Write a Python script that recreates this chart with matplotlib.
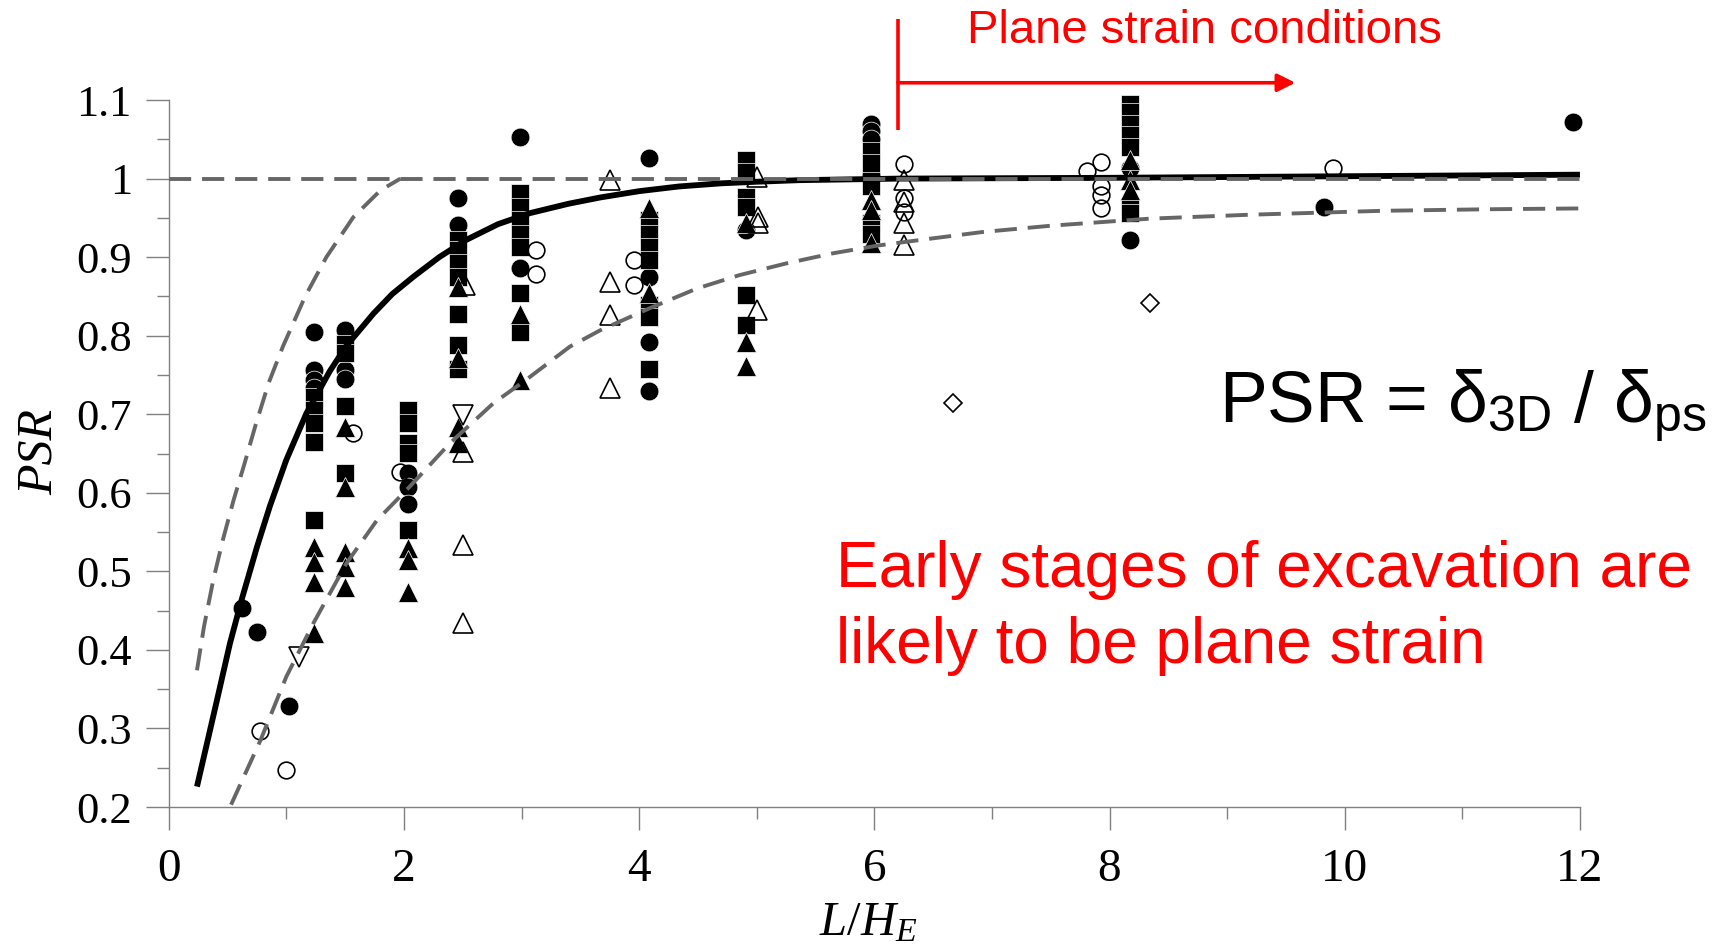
import matplotlib.pyplot as plt
from matplotlib.ticker import MultipleLocator, FuncFormatter

plt.rcParams['font.family'] = ['Liberation Serif', 'DejaVu Serif']
plt.rcParams['mathtext.fontset'] = 'custom'
plt.rcParams['mathtext.it'] = 'Liberation Serif:italic'
plt.rcParams['mathtext.rm'] = 'Liberation Serif'

# ---- field data ----
filled_circle_x = [0.62, 0.75, 1.02, 1.235, 1.235, 1.235, 1.235, 1.5, 1.5, 1.5,
                   2.036, 2.036, 2.036, 2.46, 2.46, 2.985, 2.985,
                   4.083, 4.083, 4.083, 4.083, 4.91, 5.97, 5.97, 5.97, 5.97,
                   8.17, 8.17, 9.82, 11.94]
filled_circle_y = [0.453, 0.423, 0.328, 0.805, 0.756, 0.744, 0.733, 0.807, 0.756, 0.745,
                   0.625, 0.608, 0.586, 0.975, 0.941, 1.053, 0.886,
                   1.026, 0.875, 0.792, 0.729, 0.935, 1.07, 1.06, 1.05, 1.005,
                   1.013, 0.922, 0.964, 1.072]

filled_square_x = [1.235] * 5 + [1.5] * 4 + [2.036] * 5 + [2.46] * 7 + [2.985] * 7 + \
                  [4.083] * 7 + [4.91] * 6 + [5.97] * 5 + [8.17] * 7
filled_square_y = [0.722, 0.705, 0.689, 0.665, 0.565,
                   0.79, 0.778, 0.71, 0.625,
                   0.705, 0.689, 0.663, 0.651, 0.553,
                   0.922, 0.909, 0.892, 0.875, 0.828, 0.788, 0.758,
                   0.982, 0.964, 0.947, 0.93, 0.913, 0.854, 0.805,
                   0.947, 0.93, 0.913, 0.896, 0.839, 0.824, 0.758,
                   1.024, 1.009, 0.977, 0.964, 0.852, 0.814,
                   1.035, 1.02, 0.99, 0.943, 0.93,
                   1.095, 1.085, 1.07, 1.055, 1.04, 0.964, 0.956]

filled_tri_x = [1.235] * 4 + [1.5] * 5 + [2.036] * 3 + [2.46] * 4 + [2.985] * 2 + \
               [4.083] * 2 + [4.91] * 3 + [5.97] * 3 + [8.17] * 3
filled_tri_y = [0.531, 0.512, 0.487, 0.421,
                0.684, 0.608, 0.525, 0.506, 0.480,
                0.530, 0.514, 0.474,
                0.862, 0.771, 0.684, 0.663,
                0.828, 0.744,
                0.962, 0.854,
                0.943, 0.792, 0.761,
                0.973, 0.96, 0.918,
                1.024, 0.998, 0.985]

open_circle_x = [0.78, 0.997, 1.563, 1.965, 3.127, 3.127, 3.96, 3.96,
                 6.25, 6.25, 6.25, 7.93, 7.81, 7.93, 7.93, 7.93, 9.9]
open_circle_y = [0.297, 0.247, 0.676, 0.626, 0.909, 0.879, 0.896, 0.865,
                 1.019, 0.975, 0.958, 1.021, 1.01, 0.99, 0.979, 0.962, 1.013]

open_tri_x = [2.52, 2.5, 2.5, 2.5, 3.75, 3.75, 3.75, 3.75,
              5.0, 5.01, 5.01, 5.0, 6.25, 6.25, 6.25, 6.25]
open_tri_y = [0.865, 0.652, 0.534, 0.434, 0.998, 0.869, 0.826, 0.733,
              1.002, 0.951, 0.943, 0.833, 0.998, 0.97, 0.943, 0.915]

open_tri_down_x = [1.11, 2.5]
open_tri_down_y = [0.391, 0.699]

open_diamond_x = [6.67, 8.34]
open_diamond_y = [0.714, 0.842]

# ---- trend / bound curves ----
mean_x = [0.24, 0.41, 0.52, 0.62, 0.75, 0.86, 1.0, 1.17, 1.37, 1.51, 1.74, 1.9,
          2.08, 2.3, 2.53, 2.8, 3.07, 3.4, 3.67, 4.0, 4.34, 4.7, 5.0, 5.36, 6.21,
          8.0, 10.0, 12.0]
mean_y = [0.226, 0.336, 0.408, 0.464, 0.531, 0.583, 0.642, 0.701, 0.755, 0.787, 0.828, 0.853,
          0.875, 0.90, 0.922, 0.942, 0.956, 0.968, 0.976, 0.984, 0.99, 0.994, 0.996, 0.998, 1.0,
          1.001, 1.003, 1.005]

upper_x = [0.24, 0.30, 0.38, 0.46, 0.55, 0.64, 0.74, 0.85, 0.97, 1.16, 1.34, 1.57, 1.8, 1.97]
upper_y = [0.374, 0.43, 0.49, 0.54, 0.59, 0.635, 0.687, 0.74, 0.786, 0.85, 0.90, 0.951, 0.985, 1.0]

unity_x = [0, 12]
unity_y = [1.0, 1.0]

lower_x = [0.53, 0.78, 1.0, 1.23, 1.51, 1.77, 2.05, 2.39, 2.76, 3.04, 3.41, 3.67, 4.09,
           4.49, 4.85, 5.25, 5.65, 6.04, 6.5, 6.92, 7.5, 8.34, 9.19, 10.32, 11.23, 12.0]
lower_y = [0.203, 0.285, 0.366, 0.434, 0.51, 0.565, 0.608, 0.663, 0.714, 0.744, 0.786,
           0.807, 0.835, 0.86, 0.877, 0.892, 0.905, 0.915, 0.924, 0.932, 0.940, 0.949,
           0.954, 0.959, 0.961, 0.962]

ps_start = 6.2
ps_end = 9.58

fig = plt.figure(figsize=(17.29, 9.51), dpi=100)
ax = fig.add_axes([0.0976, 0.1514, 0.8162, 0.7434])

mk = dict(ls='none', clip_on=False, zorder=3)
ax.plot(filled_circle_x, filled_circle_y, marker='o', ms=13.5, mfc='k', mec='w', mew=0.5, **mk)
ax.plot(filled_square_x, filled_square_y, marker='s', ms=13, mfc='k', mec='w', mew=0.5, **mk)
ax.plot(filled_tri_x, filled_tri_y, marker='^', ms=15, mfc='k', mec='w', mew=0.5, **mk)
ax.plot(open_circle_x, open_circle_y, marker='o', ms=12, mfc='none', mec='k', mew=1.2, **mk)
ax.plot(open_tri_x, open_tri_y, marker='^', ms=14, mfc='none', mec='k', mew=1.2, **mk)
ax.plot(open_tri_down_x, open_tri_down_y, marker='v', ms=14, mfc='none', mec='k', mew=1.2, **mk)
ax.plot(open_diamond_x, open_diamond_y, marker='D', ms=9, mfc='none', mec='k', mew=1.2, **mk)

dash = (0, (5.7, 2.8))
ax.plot(mean_x, mean_y, color='k', lw=4.2, zorder=4, solid_capstyle='butt')
ax.plot(unity_x, unity_y, color='#666666', lw=2.8, ls=dash, zorder=5)
ax.plot(upper_x, upper_y, color='#666666', lw=2.8, ls=dash, zorder=5)
ax.plot(lower_x, lower_y, color='#666666', lw=2.8, ls=dash, zorder=5)

ax.set_xlim(0, 12)
ax.set_ylim(0.2, 1.1)
for s in ['top', 'right']:
    ax.spines[s].set_visible(False)
for s in ['left', 'bottom']:
    ax.spines[s].set_color('#808080')
    ax.spines[s].set_linewidth(1.0)

ax.xaxis.set_major_locator(MultipleLocator(2))
ax.xaxis.set_minor_locator(MultipleLocator(1))
ax.yaxis.set_major_locator(MultipleLocator(0.1))
ax.yaxis.set_minor_locator(MultipleLocator(0.05))
ax.yaxis.set_major_formatter(FuncFormatter(lambda v, _: '%g' % round(v, 2)))
ax.tick_params(which='major', direction='out', length=16.6, width=1.0, color='#808080')
ax.tick_params(which='minor', direction='out', length=8.4, width=1.0, color='#808080')
ax.tick_params(axis='x', which='major', labelsize=34, pad=13)
ax.tick_params(axis='y', which='major', labelsize=32, pad=10)

fig.text(0.502, 0.0168, r'$L/H_E$', fontsize=35, ha='center', va='baseline')
fig.text(0.023, 0.5247, 'PSR', fontsize=36, style='italic', rotation=90,
         ha='center', va='center')

# plane strain bracket + arrow
red = '#ff0000'
ax.plot([ps_start, ps_start], [1.0618, 1.203], color=red, lw=2.6, clip_on=False,
        solid_capstyle='butt')
ax.annotate('', xy=(ps_end, 1.122), xytext=(ps_start, 1.122), annotation_clip=False,
            arrowprops=dict(arrowstyle='-|>,head_length=0.54,head_width=0.27',
                            mutation_scale=20, color=red, lw=2.6,
                            shrinkA=0, shrinkB=0))

sans = 'Liberation Sans'
fig.text(0.5593, 0.9551, 'Plane strain conditions', color=red, fontsize=34,
         family=sans, ha='left', va='baseline')
fig.text(0.7053, 0.5566, r'PSR = δ$_{\mathregular{3D}}$ / δ$_{\mathregular{ps}}$',
         fontsize=51.5, family=sans, ha='left', va='baseline')
fig.text(0.4838, 0.3831, 'Early stages of excavation are', color=red, fontsize=46,
         family=sans, ha='left', va='baseline')
fig.text(0.4838, 0.3028, 'likely to be plane strain', color=red, fontsize=46,
         family=sans, ha='left', va='baseline')

fig.savefig('out.png', dpi=100)
